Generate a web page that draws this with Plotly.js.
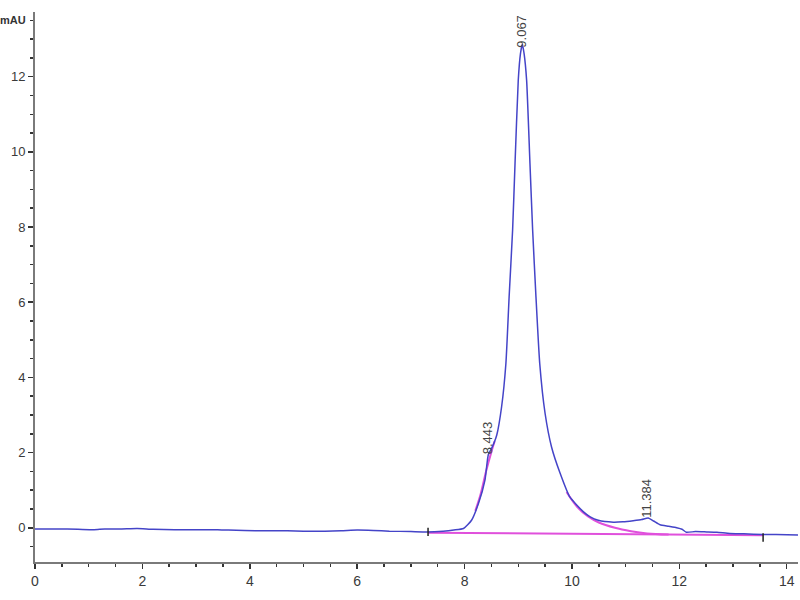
<!DOCTYPE html>
<html>
<head>
<meta charset="utf-8">
<script src="https://cdn.plot.ly/plotly-3.0.1.min.js"></script>
<style>html,body{margin:0;padding:0;background:#fff;}#chart{width:800px;height:600px;}</style>
</head>
<body>
<div id="chart"></div>
<script>
// Chromatogram signal (min, mAU)
const signalTime = [0.0,0.4,0.8,1.1,1.3,1.6,1.9,2.2,2.6,3.0,3.4,3.6,3.9,4.3,4.7,5.0,5.4,5.7,6.0,6.3,6.6,7.0,7.3,7.6,7.8,7.98,8.13,8.26,8.38,8.443,8.50,8.60,8.69,8.77,8.83,8.895,8.94,9.00,9.04,9.075,9.11,9.156,9.218,9.268,9.33,9.40,9.50,9.62,9.78,9.96,10.21,10.34,10.49,10.77,10.95,11.14,11.30,11.42,11.52,11.64,11.80,11.95,12.05,12.13,12.3,12.51,12.7,12.94,13.2,13.56,13.8,14.21];
const signalValue = [-0.03,-0.03,-0.04,-0.05,-0.03,-0.03,-0.02,-0.04,-0.05,-0.05,-0.05,-0.06,-0.07,-0.08,-0.08,-0.09,-0.09,-0.08,-0.06,-0.07,-0.09,-0.10,-0.11,-0.09,-0.06,-0.02,0.20,0.65,1.27,1.95,2.10,2.47,3.22,4.37,6.14,7.92,9.69,11.9,12.6,12.86,12.6,11.9,9.69,7.92,6.14,4.37,3.04,2.15,1.45,0.82,0.43,0.29,0.20,0.15,0.16,0.19,0.22,0.26,0.18,0.08,0.04,0.00,-0.04,-0.12,-0.10,-0.11,-0.12,-0.15,-0.16,-0.18,-0.18,-0.19];

// Integration baseline and fitted peak segments (magenta)
const baseTime = [7.32, 13.56];
const baseValue = [-0.13, -0.20];
const shoulderFitTime = [8.2, 8.3, 8.4, 8.5, 8.56];
const shoulderFitValue = [0.45, 0.9, 1.5, 2.02, 2.3];
const tailFitTime = [9.9, 10.1, 10.3, 10.5, 10.8, 11.1, 11.4, 11.8];
const tailFitValue = [0.95, 0.55, 0.3, 0.14, 0.0, -0.09, -0.15, -0.18];

// Integration event marks
const eventTime = [7.32, 13.56];
const eventValue = [-0.11, -0.26];

// Peak labels
const peakLabelTime = [8.443, 9.067, 11.384];
const peakLabelValue = [1.95, 12.86, 0.26];
const peakLabelText = ['8.443', '9.067', '11.384'];

const pink = '#e050dc';
const blue = '#4444c8';

const traces = [
  {x: baseTime, y: baseValue, mode: 'lines', line: {color: pink, width: 2}, hoverinfo: 'skip'},
  {x: shoulderFitTime, y: shoulderFitValue, mode: 'lines', line: {color: pink, width: 2, shape: 'spline'}, hoverinfo: 'skip'},
  {x: tailFitTime, y: tailFitValue, mode: 'lines', line: {color: pink, width: 2, shape: 'spline'}, hoverinfo: 'skip'},
  {x: signalTime, y: signalValue, mode: 'lines', line: {color: blue, width: 1.5, shape: 'spline', smoothing: 0.5}},
  {x: eventTime, y: eventValue, mode: 'markers', marker: {symbol: 'line-ns-open', size: 6, color: '#222', line: {color: '#222', width: 1.5}}}
];

const fontFam = 'Liberation Sans, Arial, sans-serif';
const annotations = peakLabelText.map((t, i) => ({
  x: peakLabelTime[i], y: peakLabelValue[i], xref: 'x', yref: 'y',
  text: t, showarrow: false, textangle: -90,
  xanchor: 'center', yanchor: 'bottom', yshift: i === 1 ? -5 : -2,
  font: {family: fontFam, size: 13, color: '#444'}
}));
annotations.push({
  xref: 'paper', yref: 'y', x: 0, y: 13.5, xanchor: 'right', yanchor: 'middle', xshift: -7,
  text: '<b>mAU</b>', showarrow: false, font: {family: fontFam, size: 11, color: '#333'}
});

const layout = {
  width: 800, height: 600,
  margin: {l: 35, r: 2, t: 12, b: 38},
  paper_bgcolor: '#fff', plot_bgcolor: '#fff',
  showlegend: false,
  font: {family: fontFam, color: '#3a3a3a'},
  xaxis: {
    range: [0, 14.21], showgrid: false, zeroline: false,
    showline: true, linecolor: '#7a7a7a', linewidth: 2,
    ticks: 'outside', tickcolor: '#333', ticklen: 5, tickwidth: 1.5,
    dtick: 2, tick0: 0,
    tickfont: {family: fontFam, size: 14, color: '#3a3a3a'},
    minor: {dtick: 0.5, ticks: 'outside', ticklen: 3, tickcolor: '#333', tickwidth: 1.5}
  },
  yaxis: {
    range: [-0.91, 13.72], showgrid: false, zeroline: false,
    showline: true, linecolor: '#7a7a7a', linewidth: 2,
    ticks: 'outside', tickcolor: '#333', ticklen: 5, tickwidth: 1.5,
    dtick: 2, tick0: 0,
    tickfont: {family: fontFam, size: 13, color: '#3a3a3a'},
    minor: {dtick: 0.5, ticks: 'outside', ticklen: 3, tickcolor: '#333', tickwidth: 1.5}
  },
  annotations: annotations
};

Plotly.newPlot('chart', traces, layout, {displayModeBar: false, staticPlot: true});
</script>
</body>
</html>
